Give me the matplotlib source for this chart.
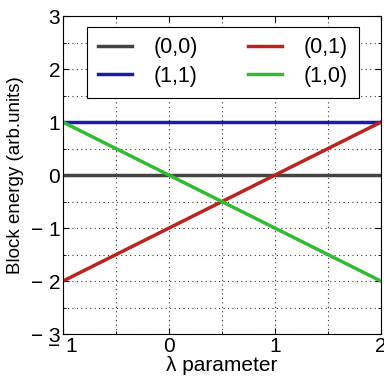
import numpy as np
import matplotlib
matplotlib.use('Agg')
import matplotlib.pyplot as plt
from matplotlib.ticker import MultipleLocator

# energy levels vs lambda
lam = [-1, 2]
e00 = [0, 0]
e11 = [1, 1]
e01 = [-2, 1]
e10 = [1, -2]
labels = ['(0,0)', '(1,1)', '(0,1)', '(1,0)']
colors = ['#444444', '#1c1ca8', '#bb2222', '#33bb33']

plt.rcParams['font.family'] = ['Liberation Sans', 'DejaVu Sans']
plt.rcParams['axes.unicode_minus'] = True

fig = plt.figure(figsize=(3.84, 3.84), dpi=100)
ax = fig.add_axes([0.164, 0.130, 0.828, 0.828])

for y, lab, c in zip([e00, e11, e01, e10], labels, colors):
    ax.plot(lam, y, color=c, lw=2.5, label=lab)

ax.set_xlim(-1, 2)
ax.set_ylim(-3, 3)
ax.set_xticks([-1, 0, 1, 2])
ax.set_yticks([-3, -2, -1, 0, 1, 2, 3])
ax.set_xticklabels(['\u2212 1', '0', '1', '2'])
ax.set_yticklabels(['\u2212 3', '\u2212 2', '\u2212 1', '0', '1', '2', '3'])
ax.xaxis.set_minor_locator(MultipleLocator(0.5))
ax.yaxis.set_minor_locator(MultipleLocator(0.5))
ax.grid(True, which='both', ls=(0, (1, 3)), color='#333333', lw=0.8)
ax.tick_params(which='both', direction='in', top=True, right=True, labelsize=15, pad=2)
ax.tick_params(which='major', length=4)
ax.tick_params(which='minor', length=2)
ax.set_xlabel('\u03bb parameter', fontsize=15, labelpad=0)
ax.set_ylabel('Block energy (arb.units)', fontsize=13.5, labelpad=5)

leg = ax.legend(ncol=2, loc='upper center', bbox_to_anchor=(0.503, 0.967), fontsize=15.5,
                fancybox=False, framealpha=1, edgecolor='black',
                columnspacing=2.3, handlelength=1.6, handletextpad=1.0,
                borderpad=0.5, labelspacing=0.35, borderaxespad=0)
leg.get_frame().set_linewidth(0.8)

fig.savefig('out.png', dpi=100)
